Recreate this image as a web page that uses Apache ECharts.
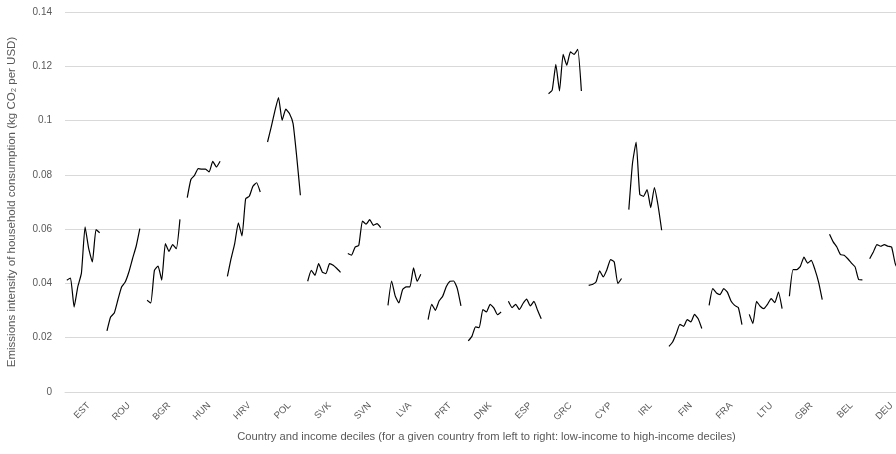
<!DOCTYPE html>
<html>
<head>
<meta charset="utf-8">
<script src="https://cdn.jsdelivr.net/npm/echarts@6/dist/echarts.min.js"></script>
<style>
  html, body { margin: 0; padding: 0; background: #fff; }
  #chart { width: 896px; height: 454px; }
</style>
</head>
<body>
<div id="chart"></div>
<script>
'use strict';

// 国家顺序（每个国家 10 个收入十分位，从低到高）
var countries = ['EST', 'ROU', 'BGR', 'HUN', 'HRV', 'POL', 'SVK', 'SVN', 'LVA', 'PRT', 'DNK',
                 'ESP', 'GRC', 'CYP', 'IRL', 'FIN', 'FRA', 'LTU', 'GBR', 'BEL', 'DEU'];

// 各国十分位排放强度 (kg CO2 / USD)
var EST = [0.0412, 0.0420, 0.0313, 0.0387, 0.0438, 0.0608, 0.0528, 0.0479, 0.0598, 0.0587];
var ROU = [0.0225, 0.0276, 0.0291, 0.0340, 0.0387, 0.0405, 0.0442, 0.0491, 0.0537, 0.0602];
var BGR = [0.0338, 0.0328, 0.0448, 0.0464, 0.0412, 0.0547, 0.0518, 0.0543, 0.0528, 0.0636];
var HUN = [0.0716, 0.0783, 0.0798, 0.0823, 0.0821, 0.0821, 0.0811, 0.0850, 0.0829, 0.0850];
var HRV = [0.0426, 0.0491, 0.0547, 0.0623, 0.0575, 0.0712, 0.0721, 0.0758, 0.0771, 0.0737];
var POL = [0.0921, 0.0976, 0.1035, 0.1085, 0.1001, 0.1042, 0.1026, 0.0989, 0.0866, 0.0725];
var SVK = [0.0408, 0.0448, 0.0430, 0.0473, 0.0442, 0.0436, 0.0473, 0.0467, 0.0455, 0.0441];
var SVN = [0.0510, 0.0504, 0.0534, 0.0540, 0.0630, 0.0618, 0.0635, 0.0614, 0.0620, 0.0606];
var LVA = [0.0319, 0.0409, 0.0353, 0.0328, 0.0377, 0.0387, 0.0387, 0.0457, 0.0408, 0.0434];
var PRT = [0.0267, 0.0323, 0.0301, 0.0335, 0.0353, 0.0389, 0.0408, 0.0409, 0.0381, 0.0317];
var DNK = [0.0188, 0.0205, 0.0240, 0.0237, 0.0304, 0.0295, 0.0323, 0.0310, 0.0285, 0.0295];
var ESP = [0.0334, 0.0311, 0.0323, 0.0304, 0.0326, 0.0342, 0.0317, 0.0334, 0.0301, 0.0270];
var GRC = [0.1099, 0.1112, 0.1207, 0.1109, 0.1244, 0.1204, 0.1253, 0.1244, 0.1262, 0.1109];
var CYP = [0.0393, 0.0396, 0.0405, 0.0446, 0.0424, 0.0451, 0.0488, 0.0479, 0.0399, 0.0418];
var IRL = [0.0672, 0.0842, 0.0921, 0.0728, 0.0721, 0.0746, 0.0679, 0.0753, 0.0688, 0.0596];
var FIN = [0.0168, 0.0184, 0.0215, 0.0249, 0.0242, 0.0267, 0.0258, 0.0286, 0.0270, 0.0234];
var FRA = [0.0319, 0.0381, 0.0365, 0.0359, 0.0381, 0.0368, 0.0335, 0.0319, 0.0311, 0.0248];
var LTU = [0.0286, 0.0252, 0.0334, 0.0316, 0.0307, 0.0323, 0.0344, 0.0329, 0.0368, 0.0307];
var GBR = [0.0353, 0.0451, 0.0451, 0.0463, 0.0497, 0.0475, 0.0485, 0.0451, 0.0405, 0.0340];
var BEL = [0.0581, 0.0553, 0.0534, 0.0506, 0.0504, 0.0491, 0.0475, 0.0461, 0.0414, 0.0413];
var DEU = [0.0491, 0.0516, 0.0543, 0.0537, 0.0543, 0.0537, 0.0534, 0.0473, 0.0450, 0.0440];

var countryData = [EST, ROU, BGR, HUN, HRV, POL, SVK, SVN, LVA, PRT, DNK,
                   ESP, GRC, CYP, IRL, FIN, FRA, LTU, GBR, BEL, DEU];

// Y 轴刻度
var yMin = 0;
var yMax = 0.14;
var yStep = 0.02;

// 每个国家占 11 个类目：10 个十分位 + 1 个空位（断开折线）
var xCats = [];
var lineData = [];
for (var c = 0; c < countries.length; c++) {
    for (var d = 0; d < 11; d++) {
        xCats.push(d === 6 ? countries[c] : '');
        lineData.push(d < 10 ? countryData[c][d] : '-');
    }
}

var chart = echarts.init(document.getElementById('chart'), null, { renderer: 'canvas' });

var font = 'Liberation Sans, Arial, sans-serif';

var option = {
    animation: false,
    backgroundColor: '#ffffff',
    textStyle: { fontFamily: font },
    grid: {
        left: 65,
        top: 12,
        width: 843,
        height: 380,
        containLabel: false,
        outerBoundsMode: 'none'
    },
    xAxis: {
        type: 'category',
        data: xCats,
        boundaryGap: true,
        name: 'Country and income deciles (for a given country from left to right: low-income to high-income deciles)',
        nameLocation: 'middle',
        nameGap: 39,
        nameTextStyle: { fontSize: 11.2, color: '#595959', fontFamily: font },
        axisLine: { lineStyle: { color: '#d9d9d9', width: 1 } },
        axisTick: { show: false },
        axisLabel: {
            interval: 0,
            rotate: 45,
            margin: 12,
            fontSize: 9.5,
            color: '#595959',
            fontFamily: font
        },
        splitLine: { show: false }
    },
    yAxis: {
        type: 'value',
        min: yMin,
        max: yMax,
        interval: yStep,
        name: 'Emissions intensity of household consumption (kg CO\u2082 per USD)',
        nameLocation: 'middle',
        nameRotate: 90,
        nameGap: 47,
        nameTextStyle: { fontSize: 11.5, color: '#595959', fontFamily: font },
        axisLine: { show: false },
        axisTick: { show: false },
        axisLabel: {
            margin: 13,
            fontSize: 10,
            color: '#595959',
            fontFamily: font
        },
        splitLine: { lineStyle: { color: '#d9d9d9', width: 1 } }
    },
    series: [{
        type: 'line',
        data: lineData,
        connectNulls: false,
        smooth: 0.15,
        showSymbol: false,
        lineStyle: { color: '#000000', width: 1.2 }
    }]
};

chart.setOption(option);
</script>
</body>
</html>
